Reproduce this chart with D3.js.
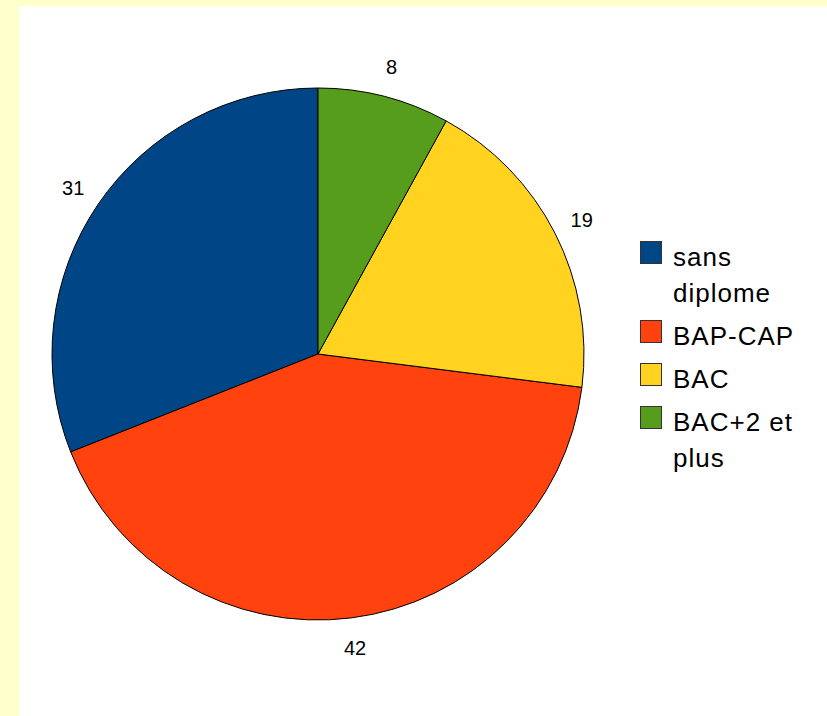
<!DOCTYPE html>
<html>
<head>
<meta charset="utf-8">
<script src="https://cdn.jsdelivr.net/npm/d3@7"></script>
<style>
  html, body { margin: 0; padding: 0; background: #ffffcc; }
  svg { display: block; }
</style>
</head>
<body>
<div id="chart"></div>
<script>
// data
var categories = ["sans diplome", "BAP-CAP", "BAC", "BAC+2 et plus"];
var values = [31, 42, 19, 8];
var legendLines = [["sans", "diplome"], ["BAP-CAP"], ["BAC"], ["BAC+2 et", "plus"]];
var colors = ["#004586", "#ff420e", "#ffd320", "#579d1c"];

var svgWidth = 827;
var svgHeight = 716;

var svg = d3.select("#chart")
  .append("svg")
  .attr("width", svgWidth)
  .attr("height", svgHeight);

// yellow frame, white plot area
svg.append("rect")
  .attr("width", svgWidth)
  .attr("height", svgHeight)
  .attr("fill", "#ffffcc");

svg.append("rect")
  .attr("x", 19)
  .attr("y", 6)
  .attr("width", svgWidth - 19)
  .attr("height", svgHeight - 6)
  .attr("fill", "#ffffff");

var cx = 318, cy = 354, radius = 266;

var pieGroup = svg.append("g")
  .attr("transform", `translate(${cx}, ${cy})`);

var table = categories.map(function(c, i) {
  return { name: c, value: values[i], color: colors[i], lines: legendLines[i] };
});

// slices run counter-clockwise from 12 o'clock
var pie = d3.pie()
  .sort(null)
  .value(d => d.value)
  .startAngle(0)
  .endAngle(-2 * Math.PI);

var arc = d3.arc().innerRadius(0).outerRadius(radius);
var labelArc = d3.arc().innerRadius(296).outerRadius(296);

var arcs = pie(table);

pieGroup.selectAll("path")
  .data(arcs)
  .enter()
  .append("path")
  .attr("d", arc)
  .attr("fill", d => d.data.color)
  .attr("stroke", "#000")
  .attr("stroke-width", 1)
  .attr("stroke-linejoin", "round");

pieGroup.selectAll("text.val")
  .data(arcs)
  .enter()
  .append("text")
  .attr("class", "val")
  .attr("x", d => labelArc.centroid(d)[0])
  .attr("y", d => labelArc.centroid(d)[1])
  .attr("text-anchor", "middle")
  .attr("dominant-baseline", "central")
  .attr("font-family", "Liberation Sans, Arial, sans-serif")
  .attr("font-size", 20)
  .attr("fill", "#000")
  .text(d => d.data.value);

// legend
var legendX = 640, textX = 673;
var lineStep = 36, entryStep = 43;
var baseline = 266;

table.forEach(function(d, i) {
  var g = svg.append("g").attr("class", "legend-item");
  g.append("rect")
    .attr("x", legendX + 0.5)
    .attr("y", baseline - 25 + 0.5)
    .attr("width", 21)
    .attr("height", 22)
    .attr("fill", d.color)
    .attr("stroke", "#333")
    .attr("stroke-width", 1);
  var t = g.append("text")
    .attr("x", textX)
    .attr("y", baseline)
    .attr("font-family", "Liberation Sans, Arial, sans-serif")
    .attr("font-size", 26)
    .attr("letter-spacing", 1)
    .attr("fill", "#000");
  d.lines.forEach(function(line, j) {
    t.append("tspan")
      .attr("x", textX)
      .attr("dy", j === 0 ? 0 : lineStep)
      .text(line);
  });
  baseline += (d.lines.length - 1) * lineStep + entryStep;
});
</script>
</body>
</html>
